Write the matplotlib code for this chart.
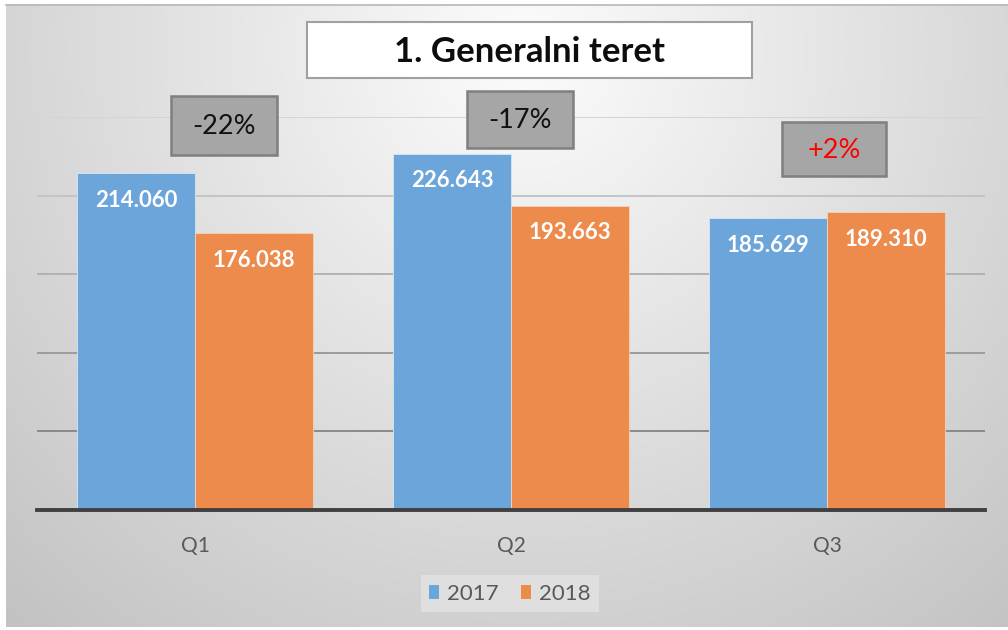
import matplotlib
matplotlib.use('Agg')
import matplotlib.pyplot as plt
import numpy as np
from matplotlib.patches import Rectangle, Patch

# ---- data ----
categories = ['Q1', 'Q2', 'Q3']
series_names = ['2017', '2018']
values_2017 = [214060, 226643, 185629]
values_2018 = [176038, 193663, 189310]
change_labels = ['-22%', '-17%', '+2%']
change_colors = ['#111111', '#111111', '#ff0000']
title_text = '1. Generalni teret'

plt.rcParams['font.family'] = ['Lato', 'DejaVu Sans']

W, H = 1008, 630
fig = plt.figure(figsize=(W / 100, H / 100), dpi=100)
fig.patch.set_facecolor('white')

# ---- background panel with radial gradient ----
bg = fig.add_axes([0, 0, 1, 1], zorder=-10)
bg.set_xlim(0, W)
bg.set_ylim(H, 0)
bg.axis('off')
yy, xx = np.mgrid[0:H, 0:W]
r = np.sqrt(((xx - 520) / 700.0) ** 2 + ((yy - 45) / 700.0) ** 2)
g = np.clip(252 - 52 * r, 0, 255) / 255.0
img = np.dstack([g, g, g])
bg.imshow(img, extent=(6, W, 627, 4), origin='upper', aspect='auto', interpolation='bilinear')
bg.plot([6, W], [4.5, 4.5], color='#b8b8b8', lw=1.2)

# ---- overlay for title and change boxes (above the plot) ----
ov = fig.add_axes([0, 0, 1, 1], zorder=10)
ov.set_xlim(0, W)
ov.set_ylim(H, 0)
ov.axis('off')
ov.patch.set_alpha(0)

ov.add_patch(Rectangle((307, 22), 445, 56, facecolor='white', edgecolor='#a0a0a0', lw=1.5))
ov.text(529.5, 52, title_text, ha='center', va='center', fontsize=25, fontweight='bold', color='#0d0d0d')

change_boxes = [(171, 96, 106, 59), (467, 91, 106, 57), (782, 122, 104, 54)]
for (bx, by, bw_, bh_), lab, col in zip(change_boxes, change_labels, change_colors):
    ov.add_patch(Rectangle((bx, by), bw_, bh_, facecolor='#a6a6a6', edgecolor='#7f7f7f', lw=1.8))
    ov.text(bx + bw_ / 2, by + bh_ / 2 + 1, lab, ha='center', va='center', fontsize=19.5, color=col)

# ---- main axes ----
ax = fig.add_axes([37 / W, 1 - 510 / H, (985 - 37) / W, 393 / H])
ax.set_facecolor('none')
x = np.arange(len(categories))
bw = 0.373
blue = '#6CA5D9'
orange = '#EC8B4B'
b1 = ax.bar(x - bw / 2, values_2017, bw, color=blue, edgecolor='#d6e6f5', lw=0.6, zorder=3)
b2 = ax.bar(x + bw / 2, values_2018, bw, color=orange, edgecolor='#f6d2b8', lw=0.6, zorder=3)

for bars, vals in ((b1, values_2017), (b2, values_2018)):
    for rect, v in zip(bars, vals):
        ax.annotate(f"{v:,}".replace(',', '.'),
                    xy=(rect.get_x() + rect.get_width() / 2, v),
                    xytext=(0, -27), textcoords='offset pixels',
                    ha='center', va='center', color='white',
                    fontsize=16, fontweight='bold', zorder=5)

ax.set_xlim(-0.5, len(categories) - 0.5)
ax.set_ylim(0, 250000)
ax.set_yticks(np.arange(0, 250001, 50000))
ax.tick_params(axis='y', length=0, labelleft=False)
ax.yaxis.grid(True, zorder=0)
grid_colors = ['#7a7a7a', '#8a8a8a', '#9c9c9c', '#b2b2b2', '#c4c4c4', '#d4d4d4']
for gl, c in zip(ax.get_ygridlines(), grid_colors):
    gl.set_color(c)
    gl.set_linewidth(1.4)
ax.set_axisbelow(True)

for s in ('top', 'right', 'left'):
    ax.spines[s].set_visible(False)
ax.spines['bottom'].set_color('#404040')
ax.spines['bottom'].set_linewidth(2.8)
ax.spines['bottom'].set_zorder(6)

ax.set_xticks(x)
ax.set_xticklabels(categories, fontsize=15, color='#595959')
ax.tick_params(axis='x', length=0, pad=19)

# legend
handles = [Patch(facecolor=blue, edgecolor='none'), Patch(facecolor=orange, edgecolor='none')]
leg = fig.legend(handles, series_names, loc='center', bbox_to_anchor=(510 / W, 1 - 593.5 / H),
                 ncol=2, frameon=True, fancybox=False, fontsize=16, labelcolor='#595959',
                 handlelength=0.45, handleheight=0.6, handletextpad=0.35, columnspacing=1.0,
                 borderpad=0.4)
leg.get_frame().set_facecolor('#e3e3e3')
leg.get_frame().set_edgecolor('none')

fig.savefig('out.png', dpi=100)
